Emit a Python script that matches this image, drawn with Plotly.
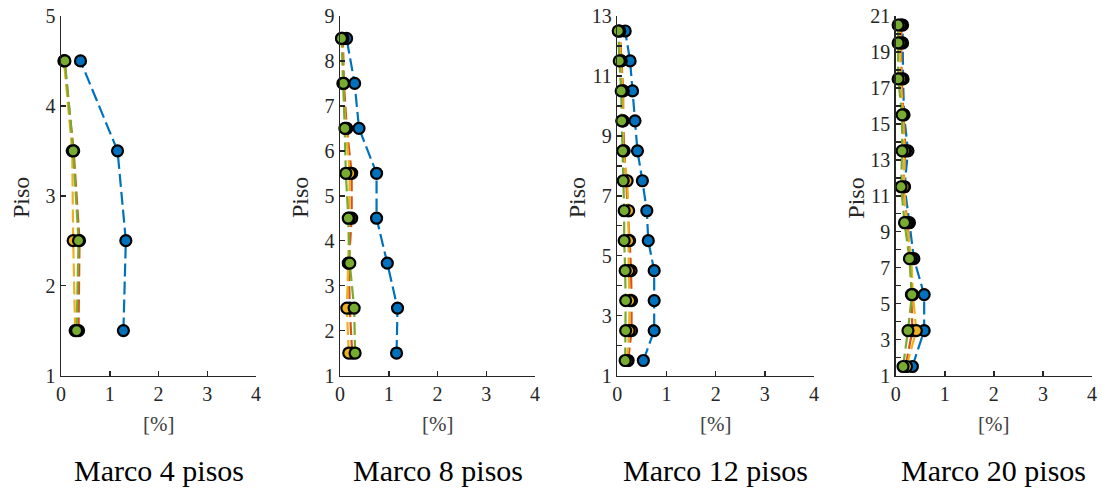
import plotly.graph_objects as go

# ---------------- data ----------------
titles = ["Marco 4 pisos", "Marco 8 pisos", "Marco 12 pisos", "Marco 20 pisos"]

pisos_4 = [1.5, 2.5, 3.5, 4.5]
blue_4 = [1.28, 1.33, 1.16, 0.40]
orange_4 = [0.36, 0.38, 0.26, 0.07]
yellow_4 = [0.29, 0.25, 0.23, 0.06]
green_4 = [0.32, 0.36, 0.25, 0.08]

pisos_8 = [1.5, 2.5, 3.5, 4.5, 5.5, 6.5, 7.5, 8.5]
blue_8 = [1.16, 1.18, 0.97, 0.75, 0.75, 0.39, 0.30, 0.135]
orange_8 = [0.25, 0.20, 0.18, 0.24, 0.24, 0.14, 0.08, 0.06]
yellow_8 = [0.18, 0.14, 0.17, 0.19, 0.20, 0.12, 0.06, 0.04]
green_8 = [0.31, 0.29, 0.20, 0.17, 0.12, 0.10, 0.07, 0.03]

pisos_12 = [1.5, 2.5, 3.5, 4.5, 5.5, 6.5, 7.5, 8.5, 9.5, 10.5, 11.5, 12.5]
blue_12 = [0.53, 0.75, 0.75, 0.75, 0.63, 0.60, 0.51, 0.41, 0.36, 0.31, 0.26, 0.16]
orange_12 = [0.22, 0.29, 0.29, 0.28, 0.25, 0.22, 0.18, 0.14, 0.12, 0.12, 0.08, 0.05]
yellow_12 = [0.20, 0.24, 0.25, 0.23, 0.23, 0.23, 0.20, 0.12, 0.11, 0.11, 0.07, 0.04]
green_12 = [0.16, 0.17, 0.17, 0.16, 0.14, 0.14, 0.12, 0.11, 0.09, 0.08, 0.04, 0.02]

pisos_20 = [1.5, 3.5, 5.5, 7.5, 9.5, 11.5, 13.5, 15.5, 17.5, 19.5, 20.5]
blue_20 = [0.34, 0.58, 0.58, 0.37, 0.28, 0.18, 0.25, 0.17, 0.15, 0.14, 0.14]
orange_20 = [0.20, 0.34, 0.32, 0.30, 0.24, 0.15, 0.20, 0.16, 0.12, 0.11, 0.12]
yellow_20 = [0.22, 0.42, 0.35, 0.32, 0.22, 0.17, 0.18, 0.15, 0.10, 0.09, 0.09]
green_20 = [0.15, 0.25, 0.33, 0.28, 0.18, 0.11, 0.13, 0.13, 0.05, 0.05, 0.05]

y_ranges = [[1, 5], [1, 9], [1, 13], [1, 21]]
y_label_step = [1, 1, 2, 2]
x_ticks = [0, 1, 2, 3, 4]

panels = [
    (pisos_4, [blue_4, orange_4, yellow_4, green_4]),
    (pisos_8, [blue_8, orange_8, yellow_8, green_8]),
    (pisos_12, [blue_12, orange_12, yellow_12, green_12]),
    (pisos_20, [blue_20, orange_20, yellow_20, green_20]),
]
colors = ["#0072BD", "#D95319", "#EDB120", "#77AC30"]

# ---------------- layout geometry ----------------
W, H = 1102, 492


def px_x(p):
    return p / W


def px_y(p):
    return 1 - p / H


x_px = [(61, 256), (340, 535), (617.3, 814), (895.7, 1092)]
y_top, y_bot = 16, 375.5
ydom = [px_y(y_bot), px_y(y_top)]
font_family = "Liberation Serif, Times New Roman, serif"
axcol = "#262626"

fig = go.Figure()
layout = dict(
    width=W, height=H,
    autosize=False,
    margin=dict(l=0, r=0, t=0, b=0, pad=0, autoexpand=False),
    paper_bgcolor="white", plot_bgcolor="white",
    showlegend=False,
    font=dict(family=font_family, color=axcol, size=20),
    annotations=[],
)

for i, (pisos, series) in enumerate(panels):
    xa = "x" if i == 0 else f"x{i+1}"
    ya = "y" if i == 0 else f"y{i+1}"
    for vals, col in zip(series, colors):
        fig.add_trace(go.Scatter(
            x=vals, y=pisos, xaxis=xa, yaxis=ya,
            mode="lines+markers",
            line=dict(color=col, width=2.2, dash="13px,5px"),
            marker=dict(color=col, size=11, line=dict(color="black", width=2.2)),
            cliponaxis=False,
        ))
    xd = [px_x(x_px[i][0]), px_x(x_px[i][1])]
    xkey = "xaxis" if i == 0 else f"xaxis{i+1}"
    ykey = "yaxis" if i == 0 else f"yaxis{i+1}"
    lo, hi = y_ranges[i]
    layout[xkey] = dict(
        domain=xd, range=[0, 4], anchor=ya, automargin=False, ticklabeloverflow="allow",
        tickvals=x_ticks, ticks="inside", ticklen=5, tickwidth=1.5, tickcolor=axcol,
        showline=True, linecolor=axcol, linewidth=1.5, showgrid=False, zeroline=False,
        tickfont=dict(size=20, color=axcol, family=font_family),
    )
    layout[ykey] = dict(
        domain=ydom, range=[lo, hi], anchor=xa, automargin=False, ticklabeloverflow="allow",
        tick0=lo, dtick=y_label_step[i], ticks="inside", ticklen=5, tickwidth=1.5, tickcolor=axcol,
        minor=dict(dtick=1, tick0=lo, ticks="inside", ticklen=5, tickwidth=1.5, tickcolor=axcol, showgrid=False),
        showline=True, linecolor=axcol, linewidth=1.5, showgrid=False, zeroline=False,
        tickfont=dict(size=20, color=axcol, family=font_family),
    )
    cxp = (x_px[i][0] + x_px[i][1]) / 2
    layout["annotations"] += [
        dict(text="[%]", x=px_x(cxp), y=px_y(424), xref="paper", yref="paper",
             showarrow=False, xanchor="center", yanchor="middle",
             font=dict(size=21, color="#404040", family=font_family)),
        dict(text=titles[i], x=px_x(cxp), y=px_y(470), xref="paper", yref="paper",
             showarrow=False, xanchor="center", yanchor="middle",
             font=dict(size=30, color="black", family=font_family)),
        dict(text="Piso", x=px_x(x_px[i][0] - 40), y=px_y(198), xref="paper", yref="paper",
             showarrow=False, xanchor="center", yanchor="middle", textangle=-90,
             font=dict(size=24, color=axcol, family=font_family)),
    ]

fig.update_layout(**layout)
fig.write_html(
    "out.html",
    config={"displayModeBar": False, "staticPlot": True},
    post_script="document.body.style.margin='0px';document.body.style.overflow='hidden';",
)
